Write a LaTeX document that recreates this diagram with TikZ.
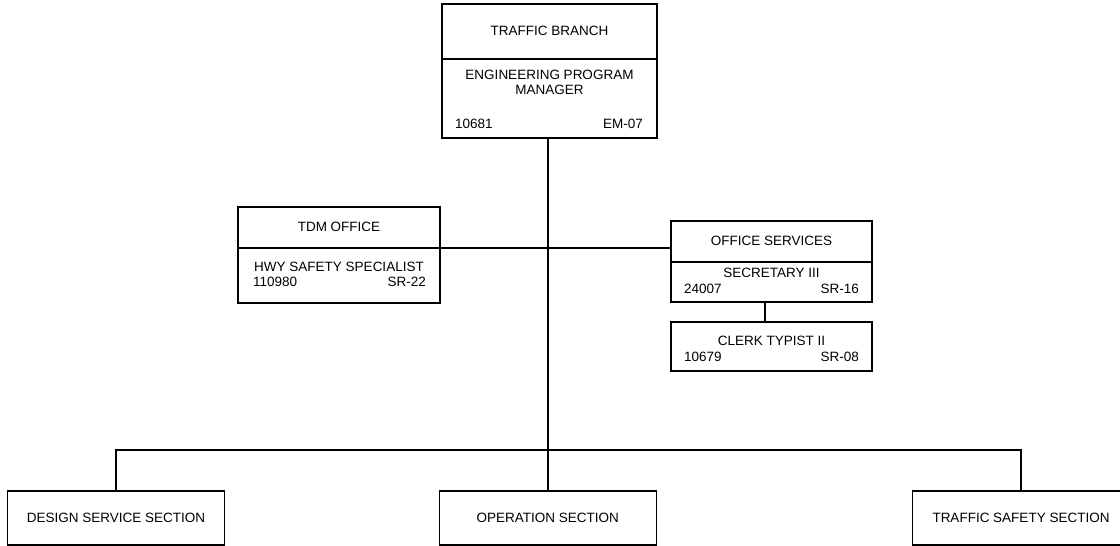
\documentclass[tikz,border=0pt]{standalone}
\usepackage{fontspec}
\setmainfont{Liberation Sans}
\begin{document}
\begin{tikzpicture}[x=1pt,y=-1pt,
  box/.style={draw,line width=1.6pt,inner sep=0pt,minimum width=#1},
  box/.default=216pt,
  lbl/.style={inner sep=0pt,font=\fontsize{13.5}{15}\selectfont},
  wire/.style={line width=1.6pt}]
\useasboundingbox (0,0) rectangle (1120,546);

% Traffic Branch head box
\node[box=215pt,minimum height=134pt] (top) at (549.5,71) {};
\draw[wire] (top.west |- 0,59) -- (top.east |- 0,59);
\node[lbl] (topt) at (549.5,31) {TRAFFIC BRANCH};
\node[lbl] (topa) at (549.5,75) {ENGINEERING PROGRAM};
\node[lbl] (topb) at (549.5,90) {MANAGER};
\node[lbl,anchor=west] (topn) at (455,124) {10681};
\node[lbl,anchor=east] (topg) at (643,124) {EM-07};

% TDM office
\node[box=202pt,minimum height=96pt] (tdm) at (339,255) {};
\draw[wire] (tdm.west |- 0,248) -- (tdm.east |- 0,248);
\node[lbl] (tdmt) at (339,227) {TDM OFFICE};
\node[lbl] (tdma) at (339,267) {HWY SAFETY SPECIALIST};
\node[lbl,anchor=west] (tdmn) at (253,282) {110980};
\node[lbl,anchor=east] (tdmg) at (426,282) {SR-22};

% Office services
\node[box=201pt,minimum height=81pt] (office) at (771.5,261.5) {};
\draw[wire] (office.west |- 0,262) -- (office.east |- 0,262);
\node[lbl] (offt) at (771.5,241) {OFFICE SERVICES};
\node[lbl] (offa) at (771.5,273) {SECRETARY III};
\node[lbl,anchor=west] (offn) at (684,289) {24007};
\node[lbl,anchor=east] (offg) at (859,289) {SR-16};

% Clerk typist
\node[box=201pt,minimum height=49pt] (clerk) at (771.5,346.5) {};
\node[lbl] (clka) at (771.5,341) {CLERK TYPIST II};
\node[lbl,anchor=west] (clkn) at (684,357) {10679};
\node[lbl,anchor=east] (clkg) at (859,357) {SR-08};

% Sections
\node[box=217pt,minimum height=54pt,font=\fontsize{13.5}{15}\selectfont] (design) at (116,518) {DESIGN SERVICE SECTION};
\node[box=217pt,minimum height=54pt,font=\fontsize{13.5}{15}\selectfont] (oper) at (547.8,518) {OPERATION SECTION};
\node[box=217pt,minimum height=54pt,font=\fontsize{13.5}{15}\selectfont] (tss) at (1021,518) {TRAFFIC SAFETY SECTION};

% Connectors
\coordinate (bus) at (547.8,450);
\coordinate (staff) at (547.8,248);
\draw[wire] (top.south -| oper.north) -- (oper.north);
\draw[wire] (design.north) |- (bus) -| (tss.north);
\draw[wire] (tdm.east |- staff) -- (office.west |- staff);
\draw[wire] ([xshift=-6.5pt]office.south) -- ([xshift=-6.5pt]clerk.north);
\end{tikzpicture}
\end{document}
